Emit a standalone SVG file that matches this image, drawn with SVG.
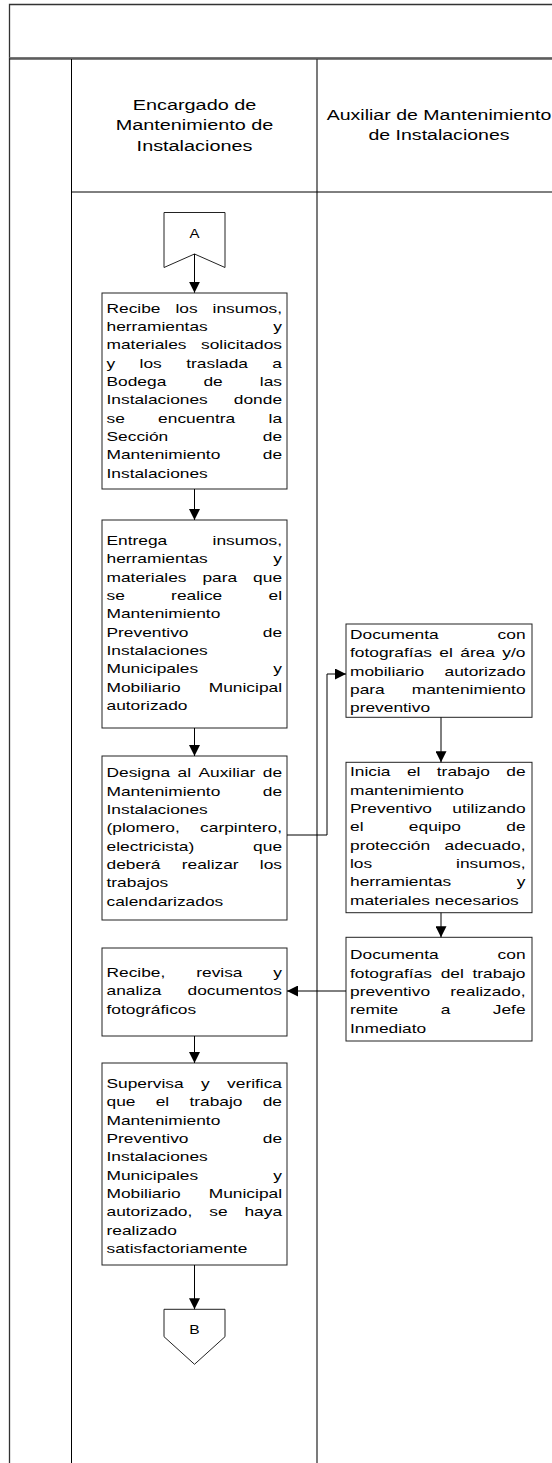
<svg xmlns="http://www.w3.org/2000/svg" width="552" height="1463" viewBox="0 0 552 1463">
<style>
.frame{fill:none;stroke:#333;stroke-width:1.3}
.ln{fill:none;stroke:#000;stroke-width:1}
.box{fill:#fff;stroke:#222;stroke-width:1}
.t text,.h text,.lbl text{font-family:"Liberation Sans",Arial,Helvetica,sans-serif;fill:#000;font-kerning:none}
.t text{font-size:13px}
.t .e{text-anchor:end}
.h text{font-size:15.5px;text-anchor:middle}
.lbl text{font-size:12px;text-anchor:middle}
.conn path{fill:none;stroke:#000;stroke-width:1;marker-end:url(#ah)}
</style>
<defs>
<marker id="ah" viewBox="0 0 11 11" refX="11" refY="5.5" markerWidth="11" markerHeight="11" markerUnits="userSpaceOnUse" orient="auto">
<path d="M0,0 L11,5.5 L0,11 Z" fill="#000"/>
</marker>
</defs>
<rect width="552" height="1463" fill="#fff"/>
<g id="frame">
<path class="frame" d="M9.5,1463 V4.5 H560"/>
<line x1="9.5" y1="57.8" x2="552" y2="57.8" stroke="#777" stroke-width="1.5"/>
<line x1="9.5" y1="59" x2="552" y2="59" stroke="#000" stroke-width="1"/>
<line class="ln" x1="71.5" y1="59" x2="71.5" y2="1463"/>
<line x1="317" y1="59" x2="317" y2="1463" stroke="#333" stroke-width="1.3"/>
<line class="ln" x1="71.5" y1="192" x2="552" y2="192"/>
</g>
<g id="lane1" class="h" transform="translate(194.5 0) scale(1.28 1)">
<text x="0" y="110">Encargado de</text>
<text x="0" y="130.5">Mantenimiento de</text>
<text x="0" y="151">Instalaciones</text>
</g>
<g id="lane2" class="h" transform="translate(439 0) scale(1.26 1)">
<text x="0" y="120">Auxiliar de Mantenimiento</text>
<text x="0" y="140.5">de Instalaciones</text>
</g>
<g id="A" class="lbl">
<path class="box" d="M164,212.5 H225 V267.5 L194.5,254 L164,267.5 Z"/>
<g transform="translate(194.5 0) scale(1.25 1)"><text x="0" y="238.5">A</text></g>
</g>
<g id="n1">
<rect class="box" x="102" y="293" width="185" height="196"/>
<g class="t" transform="translate(106.5 0) scale(1.335 1)">
<text x="0" y="312.7" word-spacing="7.6">Recibe los insumos,</text>
<text x="0" y="331">herramientas</text><text class="e" x="131.5" y="331">y</text>
<text x="0" y="349.3">materiales</text><text class="e" x="131.5" y="349.3">solicitados</text>
<text x="0" y="367.7" word-spacing="14.69">y los traslada a</text>
<text x="0" y="386" word-spacing="24.2">Bodega de las</text>
<text x="0" y="404.3">Instalaciones</text><text class="e" x="131.5" y="404.3">donde</text>
<text x="0" y="422.7" word-spacing="21.31">se encuentra la</text>
<text x="0" y="441">Sección</text><text class="e" x="131.5" y="441">de</text>
<text x="0" y="459.3">Mantenimiento</text><text class="e" x="131.5" y="459.3">de</text>
<text x="0" y="477.7">Instalaciones</text>
</g>
</g>
<g id="n2">
<rect class="box" x="102" y="520" width="185" height="208"/>
<g class="t" transform="translate(106.5 0) scale(1.335 1)">
<text x="0" y="545">Entrega</text><text class="e" x="131.5" y="545">insumos,</text>
<text x="0" y="563.3">herramientas</text><text class="e" x="131.5" y="563.3">y</text>
<text x="0" y="581.7" word-spacing="8.31">materiales para que</text>
<text x="0" y="600" word-spacing="31.07">se realice el</text>
<text x="0" y="618.3">Mantenimiento</text>
<text x="0" y="636.7">Preventivo</text><text class="e" x="131.5" y="636.7">de</text>
<text x="0" y="655">Instalaciones</text>
<text x="0" y="673.3">Municipales</text><text class="e" x="131.5" y="673.3">y</text>
<text x="0" y="691.7">Mobiliario</text><text class="e" x="131.5" y="691.7">Municipal</text>
<text x="0" y="710">autorizado</text>
</g>
</g>
<g id="n3">
<rect class="box" x="102" y="756" width="185" height="164"/>
<g class="t" transform="translate(106.5 0) scale(1.335 1)">
<text x="0" y="777.5" word-spacing="1.93">Designa al Auxiliar de</text>
<text x="0" y="795.8">Mantenimiento</text><text class="e" x="131.5" y="795.8">de</text>
<text x="0" y="814.2">Instalaciones</text>
<text x="0" y="832.5">(plomero,</text><text class="e" x="131.5" y="832.5">carpintero,</text>
<text x="0" y="850.8">electricista)</text><text class="e" x="131.5" y="850.8">que</text>
<text x="0" y="869.2" word-spacing="12.29">deberá realizar los</text>
<text x="0" y="887.5">trabajos</text>
<text x="0" y="905.8">calendarizados</text>
</g>
</g>
<g id="n4">
<rect class="box" x="102" y="948" width="185" height="88"/>
<g class="t" transform="translate(106.5 0) scale(1.335 1)">
<text x="0" y="977" word-spacing="19.52">Recibe, revisa y</text>
<text x="0" y="995.3">analiza</text><text class="e" x="131.5" y="995.3">documentos</text>
<text x="0" y="1013.7">fotográficos</text>
</g>
</g>
<g id="n5">
<rect class="box" x="102" y="1063" width="185" height="202"/>
<g class="t" transform="translate(106.5 0) scale(1.335 1)">
<text x="0" y="1088" word-spacing="9.4">Supervisa y verifica</text>
<text x="0" y="1106.3" word-spacing="11.55">que el trabajo de</text>
<text x="0" y="1124.7">Mantenimiento</text>
<text x="0" y="1143">Preventivo</text><text class="e" x="131.5" y="1143">de</text>
<text x="0" y="1161.3">Instalaciones</text>
<text x="0" y="1179.7">Municipales</text><text class="e" x="131.5" y="1179.7">y</text>
<text x="0" y="1198">Mobiliario</text><text class="e" x="131.5" y="1198">Municipal</text>
<text x="0" y="1216.3" word-spacing="9.03">autorizado, se haya</text>
<text x="0" y="1234.7">realizado</text>
<text x="0" y="1253">satisfactoriamente</text>
</g>
</g>
<g id="r1">
<rect class="box" x="346" y="624" width="186" height="93.3"/>
<g class="t" transform="translate(350 0) scale(1.335 1)">
<text x="0" y="639">Documenta</text><text class="e" x="131.5" y="639">con</text>
<text x="0" y="657.3" word-spacing="1.92">fotografías el área y/o</text>
<text x="0" y="675.7">mobiliario</text><text class="e" x="131.5" y="675.7">autorizado</text>
<text x="0" y="694">para</text><text class="e" x="131.5" y="694">mantenimiento</text>
<text x="0" y="712.3">preventivo</text>
</g>
</g>
<g id="r2">
<rect class="box" x="346" y="762.3" width="186" height="150.4"/>
<g class="t" transform="translate(350 0) scale(1.335 1)">
<text x="0" y="776.5" word-spacing="8.67">Inicia el trabajo de</text>
<text x="0" y="794.8">mantenimiento</text>
<text x="0" y="813.2">Preventivo</text><text class="e" x="131.5" y="813.2">utilizando</text>
<text x="0" y="831.5" word-spacing="30.34">el equipo de</text>
<text x="0" y="849.8">protección</text><text class="e" x="131.5" y="849.8">adecuado,</text>
<text x="0" y="868.2">los</text><text class="e" x="131.5" y="868.2">insumos,</text>
<text x="0" y="886.5">herramientas</text><text class="e" x="131.5" y="886.5">y</text>
<text x="0" y="904.8">materiales necesarios</text>
</g>
</g>
<g id="r3">
<rect class="box" x="346" y="937.3" width="186" height="103.7"/>
<g class="t" transform="translate(350 0) scale(1.335 1)">
<text x="0" y="959.5">Documenta</text><text class="e" x="131.5" y="959.5">con</text>
<text x="0" y="977.8" word-spacing="2.88">fotografías del trabajo</text>
<text x="0" y="996.2">preventivo</text><text class="e" x="131.5" y="996.2">realizado,</text>
<text x="0" y="1014.5" word-spacing="28.18">remite a Jefe</text>
<text x="0" y="1032.8">Inmediato</text>
</g>
</g>
<g id="B" class="lbl">
<path class="box" d="M164,1309.3 H225 V1336.7 L194.5,1364.3 L164,1336.7 Z"/>
<g transform="translate(194.5 0) scale(1.2 1)"><text x="0" y="1334.3" style="font-size:13px">B</text></g>
</g>
<g id="connectors" class="conn">
<path d="M194.5,254 V292.7"/>
<path d="M194.5,489 V520"/>
<path d="M194.5,728 V756"/>
<path d="M287,835 H327 V674 H346"/>
<path d="M441,717.3 V762.3"/>
<path d="M441,912.7 V937.3"/>
<path d="M346,991 H287"/>
<path d="M194.5,1036 V1063"/>
<path d="M194.5,1265 V1309.3"/>
</g>
</svg>
